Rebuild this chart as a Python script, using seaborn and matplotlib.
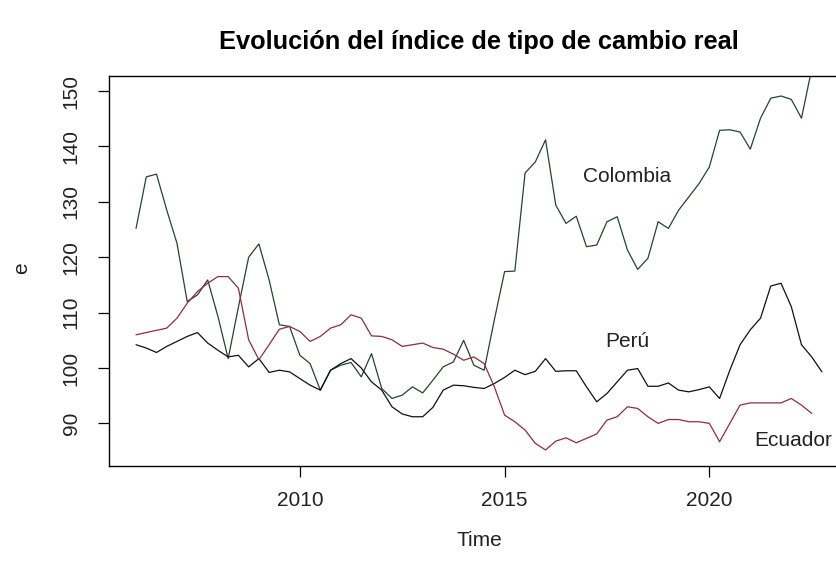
import numpy as np
import pandas as pd
import matplotlib
matplotlib.use("Agg")
import matplotlib.pyplot as plt
import seaborn as sns

# Quarterly real exchange rate indices, 2006Q1 - 2022Q4
start_year = 2006.0
freq = 4

colombia = [125.2, 134.5, 135.0, 128.5, 122.5, 112.0, 113.2, 115.9, 109.3, 101.7,
            111.0, 120.0, 122.4, 115.9, 107.8, 107.5, 102.3, 100.8, 96.0, 99.6,
            100.5, 101.0, 98.4, 102.6, 96.3, 94.5, 95.1, 96.6, 95.5, 97.8,
            100.2, 101.1, 105.0, 100.5, 99.6, 108.7, 117.4, 117.5, 135.2, 137.2,
            141.2, 129.4, 126.1, 127.4, 121.9, 122.2, 126.4, 127.3, 121.3, 117.8,
            119.8, 126.4, 125.2, 128.5, 130.9, 133.3, 136.3, 142.9, 143.0, 142.6,
            139.5, 145.1, 148.7, 149.1, 148.5, 145.1, 154.0, 160.0]

peru = [104.2, 103.6, 102.8, 103.9, 104.8, 105.7, 106.4, 104.5, 103.2, 102.0,
        102.3, 100.2, 101.7, 99.2, 99.6, 99.3, 98.1, 96.9, 96.0, 99.6,
        100.8, 101.7, 100.0, 97.5, 96.0, 93.0, 91.7, 91.2, 91.2, 92.9,
        96.0, 96.9, 96.8, 96.5, 96.3, 97.2, 98.3, 99.6, 98.8, 99.4,
        101.7, 99.4, 99.5, 99.5, 96.6, 93.9, 95.4, 97.5, 99.6, 99.9,
        96.7, 96.7, 97.3, 96.0, 95.7, 96.1, 96.6, 94.5, 99.6, 104.2,
        106.9, 109.0, 114.8, 115.3, 111.1, 104.2, 102.0, 99.3]

ecuador = [106.0, 106.4, 106.8, 107.2, 109.0, 111.7, 113.8, 115.3, 116.5, 116.5,
           114.4, 105.1, 101.5, 104.2, 107.0, 107.5, 106.6, 104.8, 105.7, 107.2,
           107.8, 109.6, 109.0, 105.8, 105.7, 105.1, 103.9, 104.2, 104.5, 103.7,
           103.4, 102.5, 101.4, 102.0, 100.8, 96.6, 91.5, 90.3, 88.8, 86.4,
           85.2, 86.8, 87.4, 86.5, 87.3, 88.1, 90.6, 91.2, 93.0, 92.7,
           91.2, 90.0, 90.7, 90.7, 90.3, 90.3, 90.0, 86.7, 90.0, 93.3,
           93.7, 93.7, 93.7, 93.7, 94.5, 93.3, 91.8]

series = {"Colombia": colombia, "Perú": peru, "Ecuador": ecuador}
colors = {"Colombia": "#26452c", "Perú": "#111111", "Ecuador": "#8c2f3c"}

frames = []
for name, vals in series.items():
    t = start_year + np.arange(len(vals)) / freq
    frames.append(pd.DataFrame({"Time": t, "e": vals, "pais": name}))
df = pd.concat(frames, ignore_index=True)

sns.set_theme(style="white")
plt.rcParams["font.family"] = ["Liberation Sans", "DejaVu Sans"]

W, H = 836, 572
fig = plt.figure(figsize=(W / 100, H / 100), dpi=100)
left, right, top, bottom = 108.6, 849.4, 76, 466
ax = fig.add_axes([left / W, 1 - bottom / H, (right - left) / W, (bottom - top) / H])

sns.lineplot(data=df, x="Time", y="e", hue="pais", palette=colors,
             linewidth=0.9, legend=False, ax=ax, estimator=None, sort=False)

ax.set_xlim(2005.33, 2023.42)
ax.set_ylim(82.31, 152.71)
ax.set_xticks([2010, 2015, 2020])
ax.set_yticks([90, 100, 110, 120, 130, 140, 150])
ax.set_xlabel("")
ax.set_ylabel("")

for s in ax.spines.values():
    s.set_visible(True)
    s.set_color("black")
    s.set_linewidth(1.0)

ax.tick_params(axis="both", which="major", length=8, width=0.9, color="black",
               labelsize=15, labelcolor="#222222", direction="out")
ax.tick_params(axis="x", pad=10, bottom=True)
ax.tick_params(axis="y", pad=12, left=True, labelrotation=90)
for lab in ax.get_yticklabels():
    lab.set_va("center")

# Series labels
ax.text(2018.0, 134.5, "Colombia", fontsize=15, ha="center", va="center", color="#222222")
ax.text(2018.0, 104.7, "Perú", fontsize=15, ha="center", va="center", color="#222222")
ax.text(2022.05, 87.0, "Ecuador", fontsize=15, ha="center", va="center", color="#222222")

cx = (left + right) / 2 / W
fig.text(cx, 1 - 42 / H, "Evolución del índice de tipo de cambio real",
         fontsize=18.3, fontweight="bold", ha="center", va="center", color="black")
fig.text(cx, 1 - 540 / H, "Time", fontsize=15, ha="center", va="center", color="#222222")
fig.text(22 / W, 1 - 268 / H, "e", fontsize=15, ha="center", va="center",
         rotation=90, color="#222222")

fig.savefig("out.png", dpi=100, facecolor="white")
